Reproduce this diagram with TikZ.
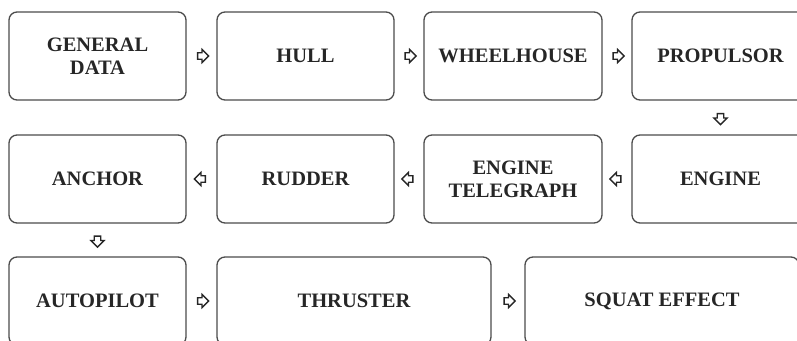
\documentclass[tikz,border=0pt]{standalone}
\usepackage{fontspec}
\setmainfont{Liberation Serif}
\usetikzlibrary{shapes.arrows,calc}

\begin{document}
\begin{tikzpicture}[x=1pt,y=-1pt,
  box/.style={draw=black!70,line width=1.3pt,rounded corners=8pt,minimum height=88pt,
    inner sep=0pt,align=center,font=\fontsize{20.5}{23}\selectfont\bfseries,text=black!85},
  arr/.style={single arrow,draw=black!85,line width=1.3pt,inner xsep=0pt,inner ysep=2.6pt,
    minimum height=11pt,single arrow head extend=3.4pt}]
  \useasboundingbox (0,0) rectangle (797,340);
  % row 1
  \node[box,minimum width=177pt] (gen) at (97.5,56) {GENERAL\\DATA};
  \node[box,minimum width=177pt] (hull) at (305.5,56) {HULL};
  \node[box,minimum width=178pt] (wheel) at (513,56) {WHEELHOUSE};
  \node[box,minimum width=177pt] (prop) at (720.5,56) {PROPULSOR};
  % row 2
  \node[box,minimum width=177pt] (anch) at (97.5,179) {ANCHOR};
  \node[box,minimum width=177pt] (rud) at (305.5,179) {RUDDER};
  \node[box,minimum width=178pt] (tele) at (513,179) {ENGINE\\TELEGRAPH};
  \node[box,minimum width=177pt] (eng) at (720.5,179) {ENGINE};
  % row 3
  \node[box,minimum width=177pt] (auto) at (97.5,301) {AUTOPILOT};
  \node[box,minimum width=274pt] (thr) at (354,301) {THRUSTER};
  \node[box,minimum width=274pt] (squat) at (662,301) {SQUAT EFFECT};
  % arrows
  \node[arr] (a1) at ($(gen.east)!0.5!(hull.west)$) {};
  \node[arr] (a2) at ($(hull.east)!0.5!(wheel.west)$) {};
  \node[arr] (a3) at ($(wheel.east)!0.5!(prop.west)$) {};
  \node[arr,rotate=-90] (a4) at ($(prop.south)!0.5!(eng.north)$) {};
  \node[arr,rotate=180] (a5) at ($(eng.west)!0.5!(tele.east)$) {};
  \node[arr,rotate=180] (a6) at ($(tele.west)!0.5!(rud.east)$) {};
  \node[arr,rotate=180] (a7) at ($(rud.west)!0.5!(anch.east)$) {};
  \node[arr,rotate=-90] (a8) at ($(anch.south)!0.5!(auto.north)$) {};
  \node[arr] (a9) at ($(auto.east)!0.5!(thr.west)$) {};
  \node[arr] (a10) at ($(thr.east)!0.5!(squat.west)$) {};
\end{tikzpicture}
\end{document}
